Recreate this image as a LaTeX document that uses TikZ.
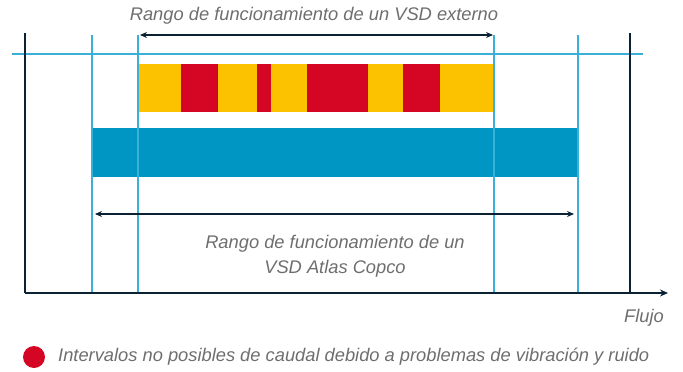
\documentclass[tikz,border=0pt]{standalone}
\usepackage{fontspec}
\setmainfont{Liberation Sans}
\usetikzlibrary{arrows.meta}
\definecolor{cyel}{HTML}{FCC200}
\definecolor{cred}{HTML}{D50623}
\definecolor{cblue}{HTML}{0096C3}
\definecolor{cline}{HTML}{3BB0D6}
\definecolor{cdark}{HTML}{0A2233}
\definecolor{ctext}{HTML}{6E6E6E}
\tikzset{
  guide/.style={draw=cline, line width=1.1pt},
  axisline/.style={draw=cdark, line width=1.8pt},
  rangearrow/.style={draw=cdark, line width=1.1pt, {Stealth[length=7pt,width=6pt]}-{Stealth[length=7pt,width=6pt]}},
  lbl/.style={text=ctext, font=\itshape\fontsize{18.3}{25}\selectfont, inner sep=0pt, align=center},
  seg/.style={draw=none, inner sep=0pt, anchor=north west}
}
\begin{document}
\begin{tikzpicture}[x=1pt,y=-1pt]
\useasboundingbox (0,0) rectangle (683,372);
% bars
\foreach \a/\b/\c [count=\i] in {139/181/cyel,181/218/cred,218/257/cyel,257/271/cred,271/307/cyel,307/368/cred,368/403/cyel,403/440/cred,440/494/cyel}{
  \fill[\c] (\a,64) rectangle (\b,112);
}
\fill[cblue] (92,128) rectangle (578,177);
% guide lines
\draw[guide] (12,54) -- (643,54);
\coordinate (g1t) at (92,35); \coordinate (g1b) at (92,293);
\coordinate (g2t) at (138,35); \coordinate (g2b) at (138,293);
\coordinate (g3t) at (494,35); \coordinate (g3b) at (494,293);
\coordinate (g4t) at (578,35); \coordinate (g4b) at (578,293);
\draw[guide] (g1t) -- (g1b);
\draw[guide] (g2t) -- (g2b);
\draw[guide] (g3t) -- (g3b);
\draw[guide] (g4t) -- (g4b);
% axes
\coordinate (o) at (25,293);
\coordinate (ytop) at (25,33);
\coordinate (xend) at (668,293);
\coordinate (rt) at (630,33);
\coordinate (rb) at (630,293);
\draw[axisline] (ytop) -- (o);
\draw[axisline, -{Stealth[length=8pt,width=7pt]}] (o) -- (xend);
\draw[axisline] (rt) -- (rb);
% range arrows
\coordinate (a1) at (140,35); \coordinate (a2) at (493,35);
\draw[rangearrow] (a1) -- (a2);
\coordinate (b1) at (95,214); \coordinate (b2) at (574,214);
\draw[rangearrow] (b1) -- (b2);
% labels
\node[lbl] (t1) at (314,16) {Rango de funcionamiento de un VSD externo};
\node[lbl] (t2) at (335,256) {Rango de funcionamiento de un\\VSD Atlas Copco};
\node[lbl, anchor=east] (t3) at (664,318) {Flujo};
\node[circle, fill=cred, minimum size=22pt, inner sep=0pt] (dot) at (34,357) {};
\node[lbl, anchor=west] (leg) at (58,357) {Intervalos no posibles de caudal debido a problemas de vibración y ruido};
\end{tikzpicture}
\end{document}
